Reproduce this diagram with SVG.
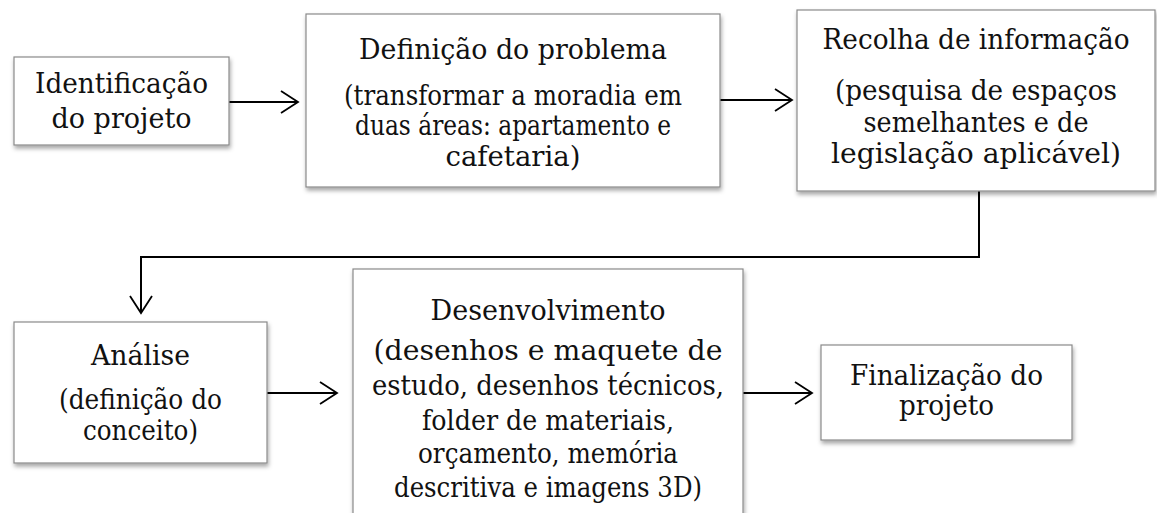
<svg xmlns="http://www.w3.org/2000/svg" width="1157" height="513" viewBox="0 0 1157 513">
<defs>
<filter id="sh" x="-10%" y="-10%" width="130%" height="130%">
<feDropShadow dx="1" dy="3" stdDeviation="2" flood-color="#000" flood-opacity="0.35"/>
</filter>
<marker id="ah" markerUnits="userSpaceOnUse" markerWidth="30" markerHeight="30" viewBox="-20 -15 24 30" refX="0" refY="0" orient="auto">
<path d="M-17,-11 L0,0 L-17,11" fill="none" stroke="#000" stroke-width="1.8"/>
</marker>
<style>
.box{fill:#fff;stroke:#8a8a8a;stroke-width:1.2;filter:url(#sh)}
.t{font-family:"DejaVu Serif","Liberation Serif",serif;font-size:27px;fill:#111;text-anchor:middle}
.c{fill:none;stroke:#000;stroke-width:2;marker-end:url(#ah)}
</style>
</defs>
<rect width="1157" height="513" fill="#fff"/>
<g id="connectors">
<line class="c" x1="229" y1="102" x2="298" y2="102"/>
<line class="c" x1="720" y1="100" x2="792" y2="100"/>
<path class="c" d="M979,191 V257 H141 V313"/>
<line class="c" x1="267" y1="393" x2="337" y2="393"/>
<line class="c" x1="743" y1="393" x2="812" y2="393"/>
</g>
<g id="n1">
<rect class="box" x="14" y="57" width="215" height="88"/>
<text class="t" x="121.5" y="93" textLength="173" lengthAdjust="spacingAndGlyphs">Identificação</text>
<text class="t" x="121.5" y="128" textLength="140" lengthAdjust="spacingAndGlyphs">do projeto</text>
</g>
<g id="n2">
<rect class="box" x="306" y="14" width="414" height="173"/>
<text class="t" x="513" y="59" textLength="308" lengthAdjust="spacingAndGlyphs">Definição do problema</text>
<text class="t" x="513" y="105" textLength="338" lengthAdjust="spacingAndGlyphs">(transformar a moradia em</text>
<text class="t" x="513" y="135" textLength="316" lengthAdjust="spacingAndGlyphs">duas áreas: apartamento e</text>
<text class="t" x="513" y="166" textLength="135" lengthAdjust="spacingAndGlyphs">cafetaria)</text>
</g>
<g id="n3">
<rect class="box" x="797" y="10" width="358" height="181"/>
<text class="t" x="976" y="49" textLength="307" lengthAdjust="spacingAndGlyphs">Recolha de informação</text>
<text class="t" x="976" y="100" textLength="282" lengthAdjust="spacingAndGlyphs">(pesquisa de espaços</text>
<text class="t" x="976" y="132" textLength="225" lengthAdjust="spacingAndGlyphs">semelhantes e de</text>
<text class="t" x="976" y="163" textLength="290" lengthAdjust="spacingAndGlyphs">legislação aplicável)</text>
</g>
<g id="n4">
<rect class="box" x="14" y="322" width="253" height="141"/>
<text class="t" x="140.5" y="365" textLength="99" lengthAdjust="spacingAndGlyphs">Análise</text>
<text class="t" x="140.5" y="409" textLength="163" lengthAdjust="spacingAndGlyphs">(definição do</text>
<text class="t" x="140.5" y="440" textLength="115" lengthAdjust="spacingAndGlyphs">conceito)</text>
</g>
<g id="n5">
<rect class="box" x="353" y="269" width="390" height="270"/>
<text class="t" x="548" y="320" textLength="235" lengthAdjust="spacingAndGlyphs">Desenvolvimento</text>
<text class="t" x="548" y="360" textLength="349" lengthAdjust="spacingAndGlyphs">(desenhos e maquete de</text>
<text class="t" x="548" y="395" textLength="352" lengthAdjust="spacingAndGlyphs">estudo, desenhos técnicos,</text>
<text class="t" x="548" y="430" textLength="252" lengthAdjust="spacingAndGlyphs">folder de materiais,</text>
<text class="t" x="548" y="463" textLength="260" lengthAdjust="spacingAndGlyphs">orçamento, memória</text>
<text class="t" x="548" y="497" textLength="308" lengthAdjust="spacingAndGlyphs">descritiva e imagens 3D)</text>
</g>
<g id="n6">
<rect class="box" x="821" y="345" width="251" height="95"/>
<text class="t" x="946.5" y="385" textLength="193" lengthAdjust="spacingAndGlyphs">Finalização do</text>
<text class="t" x="946.5" y="415" textLength="95" lengthAdjust="spacingAndGlyphs">projeto</text>
</g>
</svg>
